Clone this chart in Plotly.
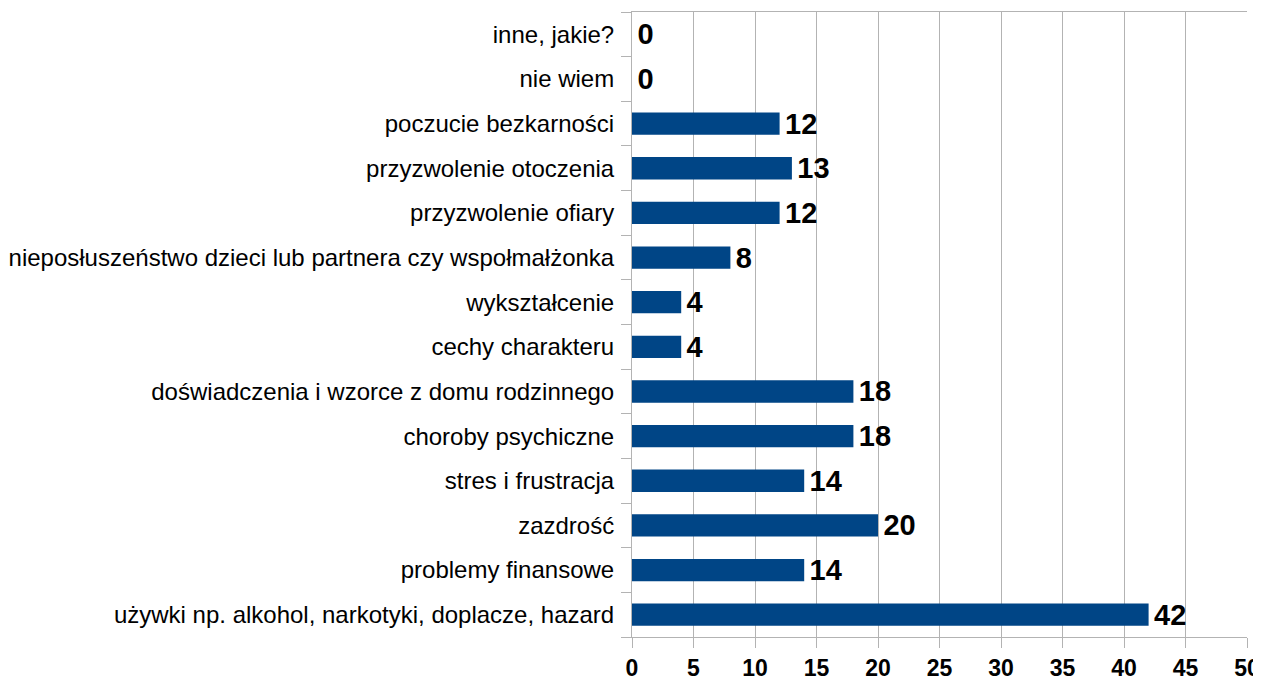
import plotly.graph_objects as go

# categories listed bottom -> top, as they appear on the chart
categories = [
    "używki np. alkohol, narkotyki, doplacze, hazard",
    "problemy finansowe",
    "zazdrość",
    "stres i frustracja",
    "choroby psychiczne",
    "doświadczenia i wzorce z domu rodzinnego",
    "cechy charakteru",
    "wykształcenie",
    "nieposłuszeństwo dzieci lub partnera czy wspołmałżonka",
    "przyzwolenie ofiary",
    "przyzwolenie otoczenia",
    "poczucie bezkarności",
    "nie wiem",
    "inne, jakie?",
]
values = [42, 14, 20, 14, 18, 18, 4, 4, 8, 12, 13, 12, 0, 0]
x_ticks = list(range(0, 51, 5))

FONT = "Liberation Sans, Arial, sans-serif"

fig = go.Figure(go.Bar(
    x=values,
    y=categories,
    orientation="h",
    marker=dict(color="#004586", line=dict(width=0)),
    text=[str(v) for v in values],
    textposition="outside",
    constraintext="none",
    textfont=dict(family=FONT, size=29, color="black"),
    texttemplate="\u200a<b>%{text}</b>",
    cliponaxis=False,
    width=0.5,
))

# page body has an 8px default margin, so the figure is a bit smaller than the window
fig.update_layout(
    width=1253,
    height=674,
    margin=dict(l=624, r=14, t=4, b=45, autoexpand=False),
    paper_bgcolor="white",
    plot_bgcolor="white",
    showlegend=False,
    font=dict(family=FONT, color="black"),
    xaxis=dict(
        range=[0, 50],
        tickvals=x_ticks,
        ticktext=["<b>%d</b>" % t for t in x_ticks],
        tickfont=dict(size=23, color="black"),
        showgrid=True,
        gridcolor="#b3b3b3",
        gridwidth=1,
        zeroline=False,
        showline=True,
        linecolor="#b3b3b3",
        mirror=True,
        ticks="outside",
        ticklen=10,
        tickcolor="#b3b3b3",
        automargin=False,
    ),
    yaxis=dict(
        type="category",
        categoryorder="array",
        categoryarray=categories,
        tickfont=dict(size=24, color="black"),
        showgrid=False,
        showline=True,
        linecolor="#b3b3b3",
        ticks="outside",
        tickson="boundaries",
        ticklen=10,
        tickcolor="#b3b3b3",
        ticklabelstandoff=12,
        automargin=False,
    ),
)

fig.write_html("out.html")
